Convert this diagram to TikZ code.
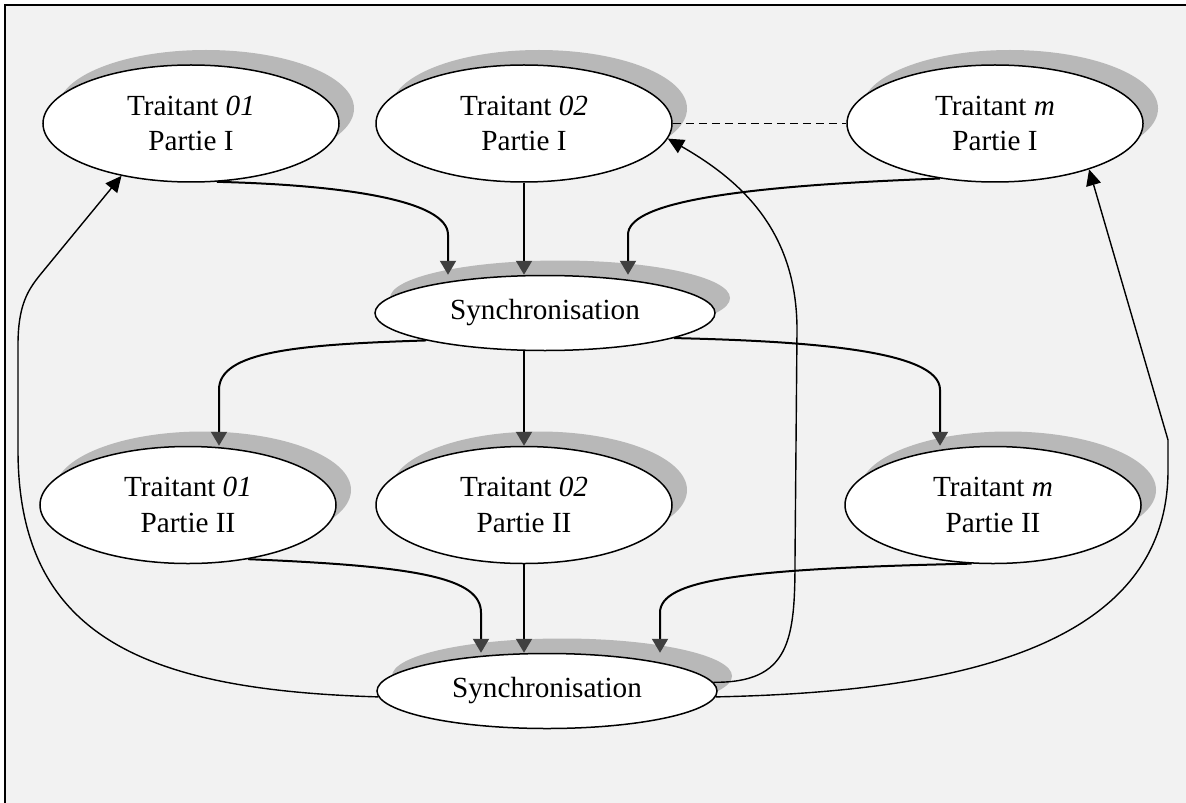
\documentclass[tikz,border=0pt]{standalone}
\usepackage{fontspec}
\setmainfont{Liberation Serif}
\usetikzlibrary{shapes.geometric, arrows.meta, shadows, calc}
\definecolor{framegray}{HTML}{F2F2F2}
\definecolor{shadegray}{HTML}{B8B8B8}
\definecolor{tipgray}{HTML}{404040}

\begin{document}
\begin{tikzpicture}[x=0.5pt, y=-0.5pt,
    every node/.style={font=\fontsize{14.6}{17.8}\selectfont},
    part/.style={ellipse, draw, line width=0.75pt, fill=white, inner sep=0pt,
        minimum width=148pt, minimum height=58.5pt, align=center,
        drop shadow={shadow xshift=7.5pt, shadow yshift=7.5pt, fill=shadegray, opacity=1}},
    sync/.style={part, minimum width=170pt, minimum height=37.5pt},
    flow/.style={line width=1pt, -{Triangle[width=8pt, length=7pt, color=tipgray]}},
    back/.style={line width=0.7pt, -{Triangle[width=7.5pt, length=8pt]}}]
    \useasboundingbox (0,0) rectangle (1186,802);
    \fill[white] (0,0) rectangle (1186,802);
    \draw[line width=1.1pt, fill=framegray] (5,5) rectangle (1210,830);

    \node[part] (t1a) at (191,123.5) {Traitant \textit{01}\\Partie I};
    \node[part] (t2a) at (524,123.5) {Traitant \textit{02}\\Partie I};
    \node[part] (tma) at (995,123.5) {Traitant \textit{m}\\Partie I};
    \node[sync] (s1) at (545,313) {Synchronisation};
    \node[part] (t1b) at (188,505) {Traitant \textit{01}\\Partie II};
    \node[part] (t2b) at (524,505) {Traitant \textit{02}\\Partie II};
    \node[part] (tmb) at (993,505) {Traitant \textit{m}\\Partie II};
    \node[sync] (s2) at (547,691) {Synchronisation};

    \draw[dashed, line width=0.6pt, dash pattern=on 4pt off 2.5pt] (t2a.east) -- (tma.west);

    \draw[flow] (t1a.-66) .. controls +(123,3) and +(0,-35) .. ($(s1.north)+(-97,-40)$) -- ($(s1.north)+(-97,0)$);
    \draw[flow] (t2a.south) -- (t2a.south |- s1.north);
    \draw[flow] (tma.-135) .. controls +(-220,8) and +(0,-30) .. ($(s1.north)+(83,-40)$) -- ($(s1.north)+(83,0)$);

    \draw[flow] (s1.-167) .. controls +(-130,4) and +(0,-38) .. ($(t1b.north)+(31,-56)$) -- ($(t1b.north)+(31,0)$);
    \draw[flow] (t2b.north |- s1.south) -- (t2b.north);
    \draw[flow] (s1.-11) .. controls +(130,3) and +(0,-40) .. ($(tmb.north)+(-53,-56)$) -- ($(tmb.north)+(-53,0)$);

    \draw[flow] (t1b.-42) .. controls +(170,7) and +(0,-35) .. ($(s2.north)+(-66,-40)$) -- ($(s2.north)+(-66,0)$);
    \draw[flow] (t2b.south) -- (t2b.south |- s2.north);
    \draw[flow] (tmb.-110) .. controls +(-230,5) and +(0,-33) .. ($(s2.north)+(113,-40)$) -- ($(s2.north)+(113,0)$);

    \draw[back] (s2.182) .. controls (150,690) and (18,640) .. (18,450) -- (18,345)
        .. controls (18,305) and (28,290) .. (40,275) -- (t1a.-143);
    \draw[back] (s2.3) .. controls (790,683) and (795,640) .. (795,560) -- (797,330)
        .. controls (797,230) and (740,180) .. (t2a.-6);
    \draw[back] (s2.-2) .. controls (950,692) and (1168,650) .. (1168,470) -- (1168,440) -- (tma.-26);
\end{tikzpicture}
\end{document}
